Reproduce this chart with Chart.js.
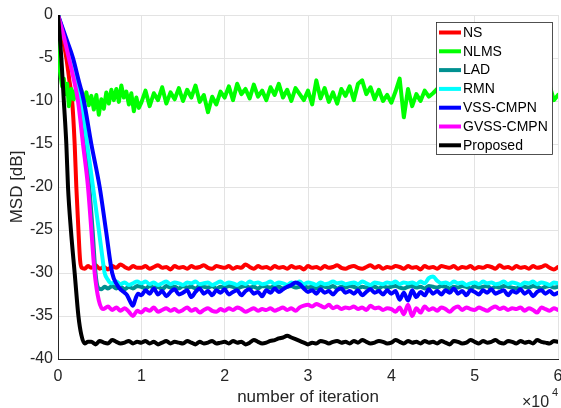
<!DOCTYPE html>
<html>
<head>
<meta charset="utf-8">
<script src="https://cdn.jsdelivr.net/npm/chart.js@4.4.1/dist/chart.umd.min.js"></script>
<style>
  html, body { margin: 0; padding: 0; background: #fff; }
  #wrap { position: relative; width: 561px; height: 408px; }
  canvas { display: block; }
</style>
</head>
<body>
<div id="wrap"><canvas id="c" width="561" height="408"></canvas></div>
<script>
// ---- tick labels / categories ----
const xTickLabels = ['0', '1', '2', '3', '4', '5', '6'];
const seriesNames = ['NS', 'NLMS', 'LAD', 'RMN', 'VSS-CMPN', 'GVSS-CMPN', 'Proposed'];
const seriesColors = ['#ff0000', '#00ff00', '#009090', '#00ffff', '#0000ff', '#ff00ff', '#000000'];

// ---- steady-state iteration grid: 10000 .. 60000 step 500 ----
const tailStart = 10000, tailStep = 500;

// ---- transient parts [iteration, MSD dB] ----
const nsHead = [[0,0],[500,-2.5],[1000,-5],[1350,-7.5],[1700,-10],[2000,-15],[2200,-20],[2450,-25],[2650,-28.5],[2850,-29.4],[3200,-29.5],[3600,-29.2],[4000,-29.4],[4500,-29.1],[5000,-29.5],[5500,-29.3],[6000,-29.6],[6500,-29.2],[7000,-29.4],[7500,-29.0],[8000,-29.3],[8500,-29.5],[9000,-29.2],[9500,-29.4]];
const nlmsHead = [[0,0],[100,-5.5],[300,-7.0],[500,-8.3],[700,-7.4],[900,-9.2],[1100,-8.0],[1300,-10.6],[1600,-8.6],[1900,-9.8],[2200,-8.4],[2500,-9.9],[2800,-8.7],[3100,-10.2],[3400,-9.0],[3700,-10.5],[4000,-9.4],[4300,-11.0],[4600,-9.3],[4900,-11.6],[5200,-9.8],[5500,-10.9],[5800,-9.0],[6100,-10.3],[6400,-8.7],[6700,-9.9],[7000,-8.6],[7300,-10.1],[7600,-8.2],[7900,-9.6],[8200,-8.9],[8500,-10.4],[8800,-9.1],[9100,-11.2],[9400,-9.6],[9700,-10.8]];
const ladHead = [[0,0],[700,-2.5],[1400,-5],[2000,-7.5],[2600,-10],[3200,-15],[3750,-20],[4150,-25],[4500,-30],[4800,-31.7],[5200,-31.9],[5600,-31.6],[6000,-31.8],[6500,-31.5],[7000,-31.8],[7500,-31.6],[8000,-31.9],[8500,-31.6],[9000,-31.8],[9500,-31.5]];
const rmnHead = [[0,0],[800,-2.5],[1600,-5],[2200,-7.5],[2800,-10],[3500,-15],[4200,-20],[4900,-25],[5300,-28],[5600,-30],[6000,-30.8],[6400,-31.2],[7000,-31.0],[7500,-31.3],[8000,-31.1],[8500,-31.4],[9000,-31.2],[9500,-31.0]];
const vssHead = [[0,0],[900,-2.5],[1800,-5],[2450,-7.5],[3100,-10],[4000,-15],[5000,-20],[5750,-25],[6500,-30],[7100,-31.4],[7600,-32.0],[8000,-32.3],[8300,-32.6],[8600,-33.2],[9000,-33.8],[9300,-33.0],[9600,-32.4]];
const gvssHead = [[0,0],[700,-2.5],[1300,-5],[1900,-7.5],[2400,-10],[3000,-15],[3600,-20],[4000,-25],[4400,-30],[4900,-33.2],[5400,-34.2],[6000,-33.9],[6500,-34.3],[7000,-34.0],[7500,-34.4],[8000,-34.1],[8500,-34.5],[9000,-35.0],[9500,-34.4]];
const propHead = [[0,0],[400,-5],[700,-10],[1000,-15],[1200,-20],[1550,-25],[2000,-30],[2450,-35],[2800,-37.2],[3200,-38.2],[3600,-38.0],[4000,-38.0],[4500,-38.3],[5000,-37.9],[5500,-38.1],[6000,-38.2],[6500,-37.8],[7000,-38.0],[7500,-38.2],[8000,-38.1],[8500,-37.9],[9000,-38.2],[9500,-38.0]];

// ---- steady-state values (10000 .. 60000, every 500) ----
const nsTail = [
 -29.4,-29.2,-29.5,-29.3,-29.1,-29.4,-29.3,-29.6,-29.2,-29.4,
 -29.3,-29.5,-29.2,-29.4,-29.3,-29.1,-29.4,-29.5,-29.2,-29.3,
 -29.4,-29.2,-29.5,-29.3,-29.4,-29.0,-29.3,-29.5,-29.2,-29.4,
 -29.3,-29.5,-29.2,-29.4,-29.3,-29.5,-29.2,-29.4,-29.3,-29.6,
 -29.2,-29.4,-29.3,-29.5,-29.2,-29.4,-29.3,-29.1,-29.4,-29.5,
 -29.3,-29.2,-29.4,-29.5,-29.3,-29.1,-29.4,-29.2,-29.5,-29.3,
 -29.4,-29.2,-29.3,-29.5,-29.2,-29.4,-29.3,-29.6,-29.2,-29.4,
 -29.3,-29.5,-29.2,-29.3,-29.4,-29.2,-29.5,-29.3,-29.4,-29.2,
 -29.5,-29.3,-29.4,-29.2,-29.3,-29.5,-29.1,-29.4,-29.3,-29.5,
 -29.2,-29.4,-29.3,-29.5,-29.2,-29.4,-29.3,-29.1,-29.4,-29.6,
 -29.3];
const nlmsTail = [
 -10.2,-8.8,-10.6,-9.1,-9.9,-8.4,-10.3,-9.0,-9.8,-8.5,
 -10.0,-8.7,-9.6,-8.2,-10.1,-9.3,-11.3,-9.5,-10.4,-8.9,
 -9.6,-8.3,-9.9,-8.0,-9.2,-8.6,-9.7,-8.1,-9.5,-8.8,
 -9.9,-8.4,-9.3,-8.0,-9.6,-8.7,-10.0,-8.5,-9.2,-9.9,
 -8.8,-10.4,-7.6,-9.7,-8.5,-10.1,-9.0,-10.3,-8.6,-9.4,
 -8.3,-9.9,-8.0,-7.6,-9.2,-8.4,-9.8,-8.7,-10.0,-9.3,
 -10.2,-8.9,-7.4,-11.9,-8.6,-10.6,-9.2,-10.0,-8.8,-9.5,
 -9.1,-8.6,-9.8,-8.9,-9.4,-8.5,-9.7,-9.0,-8.7,-9.6,
 -9.2,-8.8,-9.9,-8.6,-9.3,-9.0,-8.5,-9.7,-9.1,-8.9,
 -9.4,-8.7,-9.6,-8.8,-9.2,-8.4,-9.5,-8.6,-8.2,-9.9,
 -9.3];
const ladTail = [
 -31.6,-31.8,-31.5,-31.7,-31.6,-31.9,-31.5,-31.7,-31.6,-31.8,
 -31.5,-31.7,-31.6,-31.8,-31.5,-31.6,-31.7,-31.5,-31.8,-31.6,
 -31.7,-31.5,-31.6,-31.8,-31.6,-31.5,-31.7,-31.6,-31.8,-31.5,
 -31.6,-31.7,-31.5,-31.6,-31.8,-31.6,-31.5,-31.7,-31.6,-31.5,
 -31.7,-31.6,-31.8,-31.5,-31.6,-31.7,-31.5,-31.8,-31.6,-31.7,
 -31.5,-31.6,-31.8,-31.6,-31.7,-31.5,-31.6,-31.8,-31.5,-31.7,
 -31.6,-31.5,-31.7,-31.8,-31.6,-31.5,-31.7,-31.6,-31.8,-31.5,
 -31.6,-31.7,-31.5,-31.6,-31.8,-31.6,-31.7,-31.5,-31.6,-31.8,
 -31.5,-31.7,-31.6,-31.5,-31.8,-31.6,-31.7,-31.5,-31.6,-31.7,
 -31.8,-31.5,-31.6,-31.7,-31.5,-31.6,-31.8,-31.6,-31.5,-31.7,
 -31.6];
const rmnTail = [
 -31.2,-31.0,-31.3,-31.1,-31.4,-31.2,-31.0,-31.3,-31.1,-31.2,
 -31.4,-31.1,-31.2,-31.0,-31.3,-31.2,-31.1,-31.4,-31.2,-31.0,
 -31.3,-31.1,-31.2,-31.4,-31.1,-31.3,-31.0,-31.2,-31.1,-31.3,
 -31.2,-31.0,-31.3,-31.1,-31.2,-31.4,-31.1,-31.2,-31.0,-31.3,
 -31.1,-31.2,-31.4,-31.1,-31.3,-31.2,-31.0,-31.2,-31.1,-31.3,
 -31.2,-31.1,-31.3,-31.0,-31.2,-31.4,-31.1,-31.2,-31.3,-31.1,
 -31.2,-31.0,-31.3,-31.1,-31.2,-31.1,-31.3,-31.0,-31.2,-30.6,
 -30.4,-30.9,-31.2,-31.1,-31.3,-31.0,-31.2,-31.1,-31.4,-31.2,
 -31.1,-31.3,-31.0,-31.2,-31.1,-31.3,-31.2,-31.0,-31.3,-31.1,
 -31.2,-31.4,-31.1,-31.2,-31.0,-31.3,-31.1,-31.2,-31.4,-31.1,
 -31.2];
const vssTail = [
 -32.6,-32.0,-32.4,-31.8,-32.5,-32.1,-32.7,-32.2,-31.9,-32.5,
 -32.3,-32.0,-32.8,-32.2,-31.8,-32.4,-32.1,-32.6,-32.0,-32.3,
 -31.9,-32.5,-32.2,-32.0,-32.6,-32.1,-31.9,-32.4,-32.2,-32.7,
 -32.0,-32.3,-31.8,-32.2,-31.9,-31.6,-31.4,-31.1,-31.3,-31.8,
 -32.2,-32.0,-32.4,-31.9,-32.3,-32.1,-32.5,-32.0,-31.8,-32.3,
 -32.1,-32.4,-32.0,-32.6,-32.2,-31.9,-32.3,-32.1,-32.5,-32.0,
 -32.4,-32.1,-33.1,-32.3,-33.2,-32.0,-32.8,-32.2,-32.6,-31.9,
 -32.4,-32.1,-32.5,-32.0,-32.3,-31.8,-32.4,-32.1,-32.6,-32.0,
 -32.2,-32.5,-32.0,-32.3,-31.9,-32.4,-32.2,-32.0,-32.6,-32.1,
 -32.3,-31.9,-32.4,-32.1,-32.7,-32.2,-32.0,-32.4,-32.1,-32.5,
 -32.3];
const gvssTail = [
 -34.6,-34.2,-34.4,-34.0,-34.5,-34.3,-34.1,-34.4,-34.2,-34.5,
 -34.3,-34.0,-34.4,-34.2,-34.6,-34.3,-34.1,-34.4,-34.5,-34.2,
 -34.4,-34.1,-34.3,-34.0,-34.2,-34.5,-34.3,-34.1,-34.4,-34.2,
 -34.3,-34.1,-34.4,-34.2,-34.0,-34.3,-34.1,-34.4,-34.0,-33.8,
 -33.7,-33.9,-33.6,-33.8,-34.0,-33.7,-34.1,-33.9,-34.2,-34.0,
 -34.1,-33.9,-34.2,-34.0,-34.3,-33.8,-34.1,-34.0,-34.3,-34.1,
 -34.2,-34.5,-34.0,-34.8,-33.7,-35.0,-34.1,-34.6,-33.9,-34.3,
 -34.1,-34.4,-34.0,-34.2,-34.5,-34.1,-33.9,-34.3,-34.0,-34.2,
 -34.3,-34.0,-34.2,-34.4,-34.1,-33.9,-34.2,-34.0,-34.3,-34.1,
 -34.2,-34.0,-34.4,-34.1,-34.3,-34.6,-34.0,-34.2,-34.4,-34.1,
 -34.3];
const propTail = [
 -38.1,-37.9,-38.2,-38.0,-38.3,-38.1,-37.9,-38.2,-38.0,-38.1,
 -38.2,-37.9,-38.1,-38.3,-38.0,-38.2,-38.1,-37.9,-38.2,-38.1,
 -38.0,-38.2,-37.9,-38.1,-38.0,-38.3,-38.1,-37.8,-38.0,-38.2,
 -38.1,-37.9,-37.8,-37.6,-37.5,-37.3,-37.5,-37.7,-37.9,-38.1,
 -38.3,-38.1,-38.2,-37.9,-38.0,-38.2,-38.0,-37.9,-38.1,-38.0,
 -38.2,-37.9,-38.1,-37.8,-38.0,-38.2,-38.1,-37.9,-38.0,-38.2,
 -38.1,-37.8,-38.0,-38.2,-37.9,-38.1,-38.0,-38.2,-37.9,-38.1,
 -38.0,-38.2,-37.9,-38.1,-38.3,-37.9,-38.0,-38.2,-38.1,-37.8,
 -38.0,-38.2,-37.9,-38.1,-38.0,-37.8,-38.1,-38.2,-37.9,-38.0,
 -38.2,-37.9,-38.1,-38.0,-38.2,-37.8,-38.0,-38.1,-38.2,-37.9,
 -38.0];

const heads = [nsHead, nlmsHead, ladHead, rmnHead, vssHead, gvssHead, propHead];
const tails = [nsTail, nlmsTail, ladTail, rmnTail, vssTail, gvssTail, propTail];

function buildPoints(head, tail) {
  const pts = head.map(p => ({x: p[0], y: p[1]}));
  tail.forEach((v, i) => pts.push({x: tailStart + i * tailStep, y: v}));
  return pts;
}

const FONT = '"Liberation Sans", Arial, Helvetica, sans-serif';
const TXT = '#262626';

const datasets = seriesNames.map((name, i) => ({
  label: name,
  data: buildPoints(heads[i], tails[i]),
  borderColor: seriesColors[i],
  backgroundColor: seriesColors[i],
  borderWidth: 4,
  borderJoinStyle: 'round',
  borderCapStyle: 'round',
  pointRadius: 0,
  tension: 0,
  cubicInterpolationMode: i === 1 ? 'default' : 'monotone',
  fill: false,
  order: seriesNames.length - i
}));

const legendPlugin = {
  id: 'boxLegend',
  afterDatasetsDraw(chart) {
    const ctx = chart.ctx;
    const x0 = 436.5, y0 = 22.5, w = 116, h = 132;
    ctx.save();
    ctx.fillStyle = '#ffffff';
    ctx.fillRect(x0, y0, w, h);
    ctx.strokeStyle = '#262626';
    ctx.lineWidth = 0.8;
    ctx.strokeRect(x0, y0, w, h);
    ctx.font = '14px ' + FONT;
    ctx.textBaseline = 'middle';
    chart.data.datasets.forEach((ds, i) => {
      const yy = 32.5 + i * 18.8;
      ctx.strokeStyle = ds.borderColor;
      ctx.lineWidth = 4;
      ctx.beginPath();
      ctx.moveTo(439, yy);
      ctx.lineTo(461, yy);
      ctx.stroke();
      ctx.fillStyle = '#000000';
      ctx.fillText(ds.label, 463, yy + 0.5);
    });
    ctx.restore();
  }
};

const expPlugin = {
  id: 'expLabel',
  afterDraw(chart) {
    const ctx = chart.ctx;
    ctx.save();
    ctx.fillStyle = TXT;
    ctx.textBaseline = 'alphabetic';
    ctx.font = '16px ' + FONT;
    ctx.fillText('\u00d710', 522, 407);
    ctx.font = '11px ' + FONT;
    ctx.fillText('4', 552, 396);
    ctx.restore();
  }
};

new Chart(document.getElementById('c'), {
  type: 'line',
  data: { datasets },
  plugins: [legendPlugin, expPlugin],
  options: {
    responsive: false,
    animation: false,
    events: [],
    layout: { padding: { left: 0, right: 3, top: 15, bottom: 0 } },
    plugins: { legend: { display: false }, tooltip: { enabled: false } },
    scales: {
      x: {
        type: 'linear',
        min: 0, max: 60000,
        afterFit(s) { s.height = 49; s.paddingLeft = 0; s.paddingRight = 0; },
        afterBuildTicks(s) { s.ticks = xTickLabels.map((t, i) => ({ value: i * 10000 })); },
        ticks: {
          autoSkip: false, maxRotation: 0, padding: 8,
          color: TXT, font: { family: FONT, size: 16 },
          callback: (v) => xTickLabels[Math.round(v / 10000)]
        },
        grid: { color: '#e3e3e3', lineWidth: 1, drawTicks: false },
        border: { color: '#262626', width: 1 },
        title: { display: true, text: 'number of iteration', color: TXT,
                 font: { family: FONT, size: 17 }, padding: { top: 0, bottom: 0 } }
      },
      y: {
        min: -40, max: 0,
        afterFit(s) { s.width = 58; s.paddingTop = 0; s.paddingBottom = 0; },
        ticks: { stepSize: 5, padding: 5, color: TXT, font: { family: FONT, size: 16 } },
        grid: { color: '#e3e3e3', lineWidth: 1, drawTicks: false },
        border: { color: '#262626', width: 1 },
        title: { display: true, text: 'MSD [dB]', color: TXT,
                 font: { family: FONT, size: 17 }, padding: { top: 7, bottom: 0 } }
      }
    }
  }
});
</script>
</body>
</html>
